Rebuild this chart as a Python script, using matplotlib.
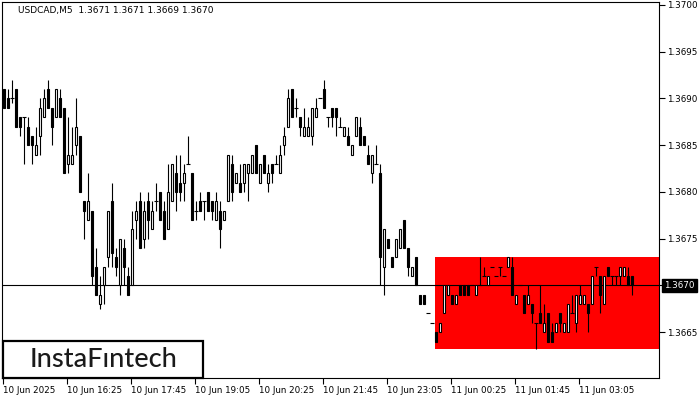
import matplotlib
matplotlib.use("Agg")
import matplotlib.pyplot as plt
from matplotlib.patches import Rectangle
import matplotlib.transforms as mtransforms

title_text = "USDCAD,M5  1.3671 1.3671 1.3669 1.3670"

opens = [1.3691,1.3690,1.3690,1.3691,1.3688,1.3688,1.3687,1.3686,1.3684,1.3686,
         1.3688,1.3691,1.3689,1.3688,1.3690,1.3689,1.3683,1.3683,1.3685,1.3686,
         1.3679,1.3677,1.3678,1.3672,1.3668,1.3670,1.3673,1.3679,1.3673,1.3670,
         1.3674,1.3671,1.3670,1.3677,1.3679,1.3675,1.3679,1.3676,1.3679,1.3680,
         1.3678,1.3676,1.3679,1.3682,1.3681,1.3681,1.3683,1.3682,1.3678,1.3679,
         1.3679,1.3680,1.3679,1.3677,1.3678,1.3677,1.3679,1.3683,1.3681,1.3681,
         1.3681,1.3682,1.3682,1.3685,1.3681,1.3684,1.3681,1.3683,1.3683,1.3682,
         1.3685,1.3687,1.3691,1.3689,1.3688,1.3686,1.3686,1.3686,1.3688,1.3690,
         1.3691,1.3688,1.3689,1.3689,1.3687,1.3686,1.3686,1.3684,1.3686,1.3687,
         1.3686,1.3684,1.3682,1.3683,1.3682,1.3672,1.3675,1.3673,1.3673,1.3674,
         1.3677,1.3674,1.3671,1.3673,1.3669,1.3669,1.3667,1.3666,1.3665,1.3665,
         1.3667,1.3669,1.3669,1.3668,1.3670,1.3670,1.3670,1.3670,1.3669,1.3670,
         1.3671,1.3670,1.3672,1.3671,1.3672,1.3671,1.3672,1.3672,1.3668,1.3670,
         1.3669,1.3668,1.3668,1.3666,1.3667,1.3665,1.3667,1.3665,1.3665,1.3667,
         1.3665,1.3665,1.3667,1.3666,1.3668,1.3668,1.3668,1.3668,1.3672,1.3671,
         1.3668,1.3672,1.3671,1.3671,1.3671,1.3671,1.3671,1.3671]

highs = [1.3691,1.3691,1.3692,1.3691,1.3688,1.3688,1.3688,1.3686,1.3687,1.3690,
         1.3691,1.3692,1.3689,1.3691,1.3691,1.3689,1.3688,1.3687,1.3690,1.3686,
         1.3679,1.3682,1.3678,1.3674,1.3671,1.3672,1.3678,1.3681,1.3674,1.3675,
         1.3675,1.3672,1.3678,1.3679,1.3680,1.3679,1.3680,1.3679,1.3681,1.3680,
         1.3679,1.3683,1.3683,1.3684,1.3684,1.3683,1.3686,1.3682,1.3679,1.3680,
         1.3679,1.3680,1.3679,1.3680,1.3679,1.3678,1.3684,1.3684,1.3682,1.3683,
         1.3683,1.3683,1.3684,1.3685,1.3683,1.3684,1.3683,1.3683,1.3684,1.3685,
         1.3687,1.3691,1.3691,1.3690,1.3688,1.3689,1.3688,1.3689,1.3690,1.3690,
         1.3692,1.3688,1.3689,1.3689,1.3688,1.3687,1.3687,1.3685,1.3688,1.3688,
         1.3686,1.3685,1.3684,1.3685,1.3683,1.3676,1.3675,1.3673,1.3675,1.3676,
         1.3677,1.3674,1.3672,1.3673,1.3669,1.3669,1.3667,1.3666,1.3665,1.3666,
         1.3670,1.3670,1.3669,1.3669,1.3670,1.3670,1.3670,1.3670,1.3670,1.3673,
         1.3672,1.3671,1.3672,1.3671,1.3672,1.3671,1.3673,1.3673,1.3669,1.3670,
         1.3669,1.3670,1.3668,1.3666,1.3670,1.3668,1.3667,1.3666,1.3666,1.3667,
         1.3666,1.3668,1.3669,1.3669,1.3670,1.3669,1.3668,1.3671,1.3672,1.3671,
         1.3671,1.3672,1.3671,1.3671,1.3672,1.3672,1.3672,1.3671]

lows = [1.3689,1.3689,1.36895,1.3687,1.3686,1.3683,1.3685,1.3683,1.3684,1.3684,
        1.3688,1.3689,1.3685,1.3688,1.3688,1.3682,1.3682,1.3683,1.3684,1.3680,
        1.3675,1.3677,1.3670,1.3669,1.36675,1.3668,1.3672,1.3672,1.3671,1.3669,
        1.3670,1.3669,1.3670,1.3675,1.3674,1.3674,1.3675,1.3676,1.3678,1.3677,
        1.3675,1.3676,1.3679,1.3678,1.3679,1.3679,1.3683,1.3677,1.3677,1.3678,
        1.3677,1.3678,1.3677,1.3677,1.3674,1.3677,1.3679,1.3679,1.3681,1.3680,
        1.3680,1.3679,1.3682,1.3682,1.3681,1.3682,1.3680,1.3681,1.3683,1.3682,
        1.3684,1.3687,1.3688,1.3688,1.3686,1.3686,1.3686,1.3685,1.3688,1.3690,
        1.3689,1.3687,1.3687,1.3686,1.3687,1.3686,1.3685,1.3684,1.3686,1.3685,
        1.3685,1.3683,1.3681,1.3683,1.3670,1.3669,1.3674,1.3672,1.3673,1.3674,
        1.3674,1.3671,1.3671,1.3670,1.3668,1.3668,1.3667,1.3666,1.3664,1.3665,
        1.3667,1.3669,1.3668,1.3668,1.3669,1.3669,1.3669,1.3670,1.3669,1.3670,
        1.3671,1.3670,1.3672,1.3671,1.3671,1.3671,1.3672,1.3669,1.3668,1.3670,
        1.3667,1.3668,1.3666,1.36632,1.3666,1.3665,1.3664,1.3664,1.3665,1.3665,
        1.3665,1.3665,1.3667,1.3665,1.3668,1.3668,1.3665,1.3668,1.3671,1.3667,
        1.3668,1.3671,1.3670,1.3670,1.3670,1.3671,1.3670,1.3669]

closes = [1.3689,1.3689,1.3690,1.3687,1.3687,1.3688,1.3685,1.3685,1.3685,1.3689,
          1.3690,1.3689,1.3687,1.3691,1.3688,1.3682,1.3684,1.3684,1.3687,1.3680,
          1.3678,1.3679,1.3671,1.3669,1.3669,1.3672,1.3678,1.36735,1.3672,1.3675,
          1.3672,1.3669,1.3676,1.3678,1.3674,1.3678,1.3677,1.3678,1.3679,1.3677,
          1.3675,1.3680,1.3683,1.3680,1.3680,1.3682,1.3683,1.3677,1.3678,1.3678,
          1.3679,1.3678,1.3678,1.3679,1.3676,1.3678,1.3684,1.3680,1.3682,1.3680,
          1.3683,1.3683,1.3684,1.3682,1.3683,1.3682,1.3682,1.3682,1.3683,1.3684,
          1.3686,1.3690,1.3688,1.3689,1.3687,1.3687,1.3687,1.3689,1.3689,1.3690,
          1.3689,1.3688,1.3688,1.3688,1.3687,1.3687,1.3685,1.3685,1.3688,1.3685,
          1.3685,1.3683,1.3684,1.3683,1.3673,1.3676,1.3674,1.3672,1.3675,1.3676,
          1.3674,1.3672,1.3672,1.3670,1.3668,1.3668,1.3667,1.3666,1.3664,1.3666,
          1.3670,1.3670,1.3668,1.3669,1.3669,1.3669,1.3669,1.3670,1.3670,1.3670,
          1.3671,1.3671,1.3672,1.3671,1.3672,1.3671,1.3673,1.3669,1.3669,1.3670,
          1.3667,1.3669,1.3667,1.3666,1.3666,1.3666,1.3664,1.3664,1.3666,1.3666,
          1.3666,1.3668,1.3667,1.3669,1.3669,1.3669,1.3667,1.3671,1.3672,1.3669,
          1.3671,1.3671,1.3671,1.3671,1.3672,1.3672,1.3670,1.3670]

x_tick_bars = [0, 16, 32, 48, 64, 80, 96, 112, 128, 144]
x_tick_labels = ["10 Jun 2025", "10 Jun 16:25", "10 Jun 17:45", "10 Jun 19:05",
                 "10 Jun 20:25", "10 Jun 21:45", "10 Jun 23:05", "11 Jun 00:25",
                 "11 Jun 01:45", "11 Jun 03:05"]
y_ticks = [1.3665, 1.3670, 1.3675, 1.3680, 1.3685, 1.3690, 1.3695, 1.3700]

zone_start_bar = 107.75
zone_low = 1.36632
zone_high = 1.3673
last_price = 1.3670

W, H = 700, 400
fig = plt.figure(figsize=(7, 4), dpi=100)
fig.patch.set_facecolor("white")
ax = fig.add_axes([2 / W, 22 / H, 657 / W, 376 / H])
ax.set_xlim(-0.5, 163.75)
ax.set_ylim(1.36601, 1.370032)

# zone rectangle
ax.add_patch(Rectangle((zone_start_bar, zone_low), 200, zone_high - zone_low,
                       facecolor="#ff0000", edgecolor="none", zorder=1))

# last price line
ax.axhline(last_price, color="black", lw=0.8, zorder=2)

# candles
for i, (o, h, l, c) in enumerate(zip(opens, highs, lows, closes)):
    ax.vlines(i, l, h, color="black", lw=0.8, zorder=3)
    if abs(c - o) < 1e-9:
        ax.hlines(o, i - 0.45, i + 0.45, color="black", lw=0.8, zorder=4)
    else:
        fc = "white" if c > o else "black"
        ax.add_patch(Rectangle((i - 0.32, min(o, c)), 0.64, abs(c - o),
                               facecolor=fc, edgecolor="black", lw=0.8, zorder=4))

for s in ax.spines.values():
    s.set_linewidth(0.8)
    s.set_color("black")

ax.set_xticks([b - 0.3 for b in x_tick_bars])
ax.set_xticklabels(x_tick_labels, ha="left")
ax.yaxis.tick_right()
ax.set_yticks(y_ticks)
# the last-price tag takes the place of the 1.3670 label
ax.set_yticklabels(["" if abs(v - last_price) < 1e-9 else f"{v:.4f}" for v in y_ticks])
ax.tick_params(axis="x", direction="out", length=4, width=0.8, pad=2,
               labelsize=6.3, colors="black")
ax.tick_params(axis="y", direction="out", length=4, width=0.8, pad=2,
               labelsize=6.3, colors="black")

# price tag
trans = mtransforms.blended_transform_factory(ax.transAxes, ax.transData)
ax.text(1 + 5 / 657, last_price, f"{last_price:.4f}", transform=trans,
        fontsize=6.3, color="white", va="center", ha="left", zorder=10,
        bbox=dict(boxstyle="square,pad=0.25", facecolor="black", edgecolor="black"),
        clip_on=False)

# title
fig.text(18 / W, 1 - 11 / H, title_text, fontsize=6.5, va="center", ha="left",
         color="black")

# logo box
ax.add_patch(Rectangle((1 / 657, 0), 200 / 657, 37 / 376, transform=ax.transAxes,
                       facecolor="white", edgecolor="black", lw=1.6, zorder=8,
                       clip_on=False))
ax.text(102 / 657, 18.5 / 376, "InstaF\u0131ntech", transform=ax.transAxes,
        fontsize=19.5, family="Lato", fontweight="medium", color="#1a1a1a",
        va="center", ha="center", zorder=9)

fig.savefig("out.png", dpi=100)
